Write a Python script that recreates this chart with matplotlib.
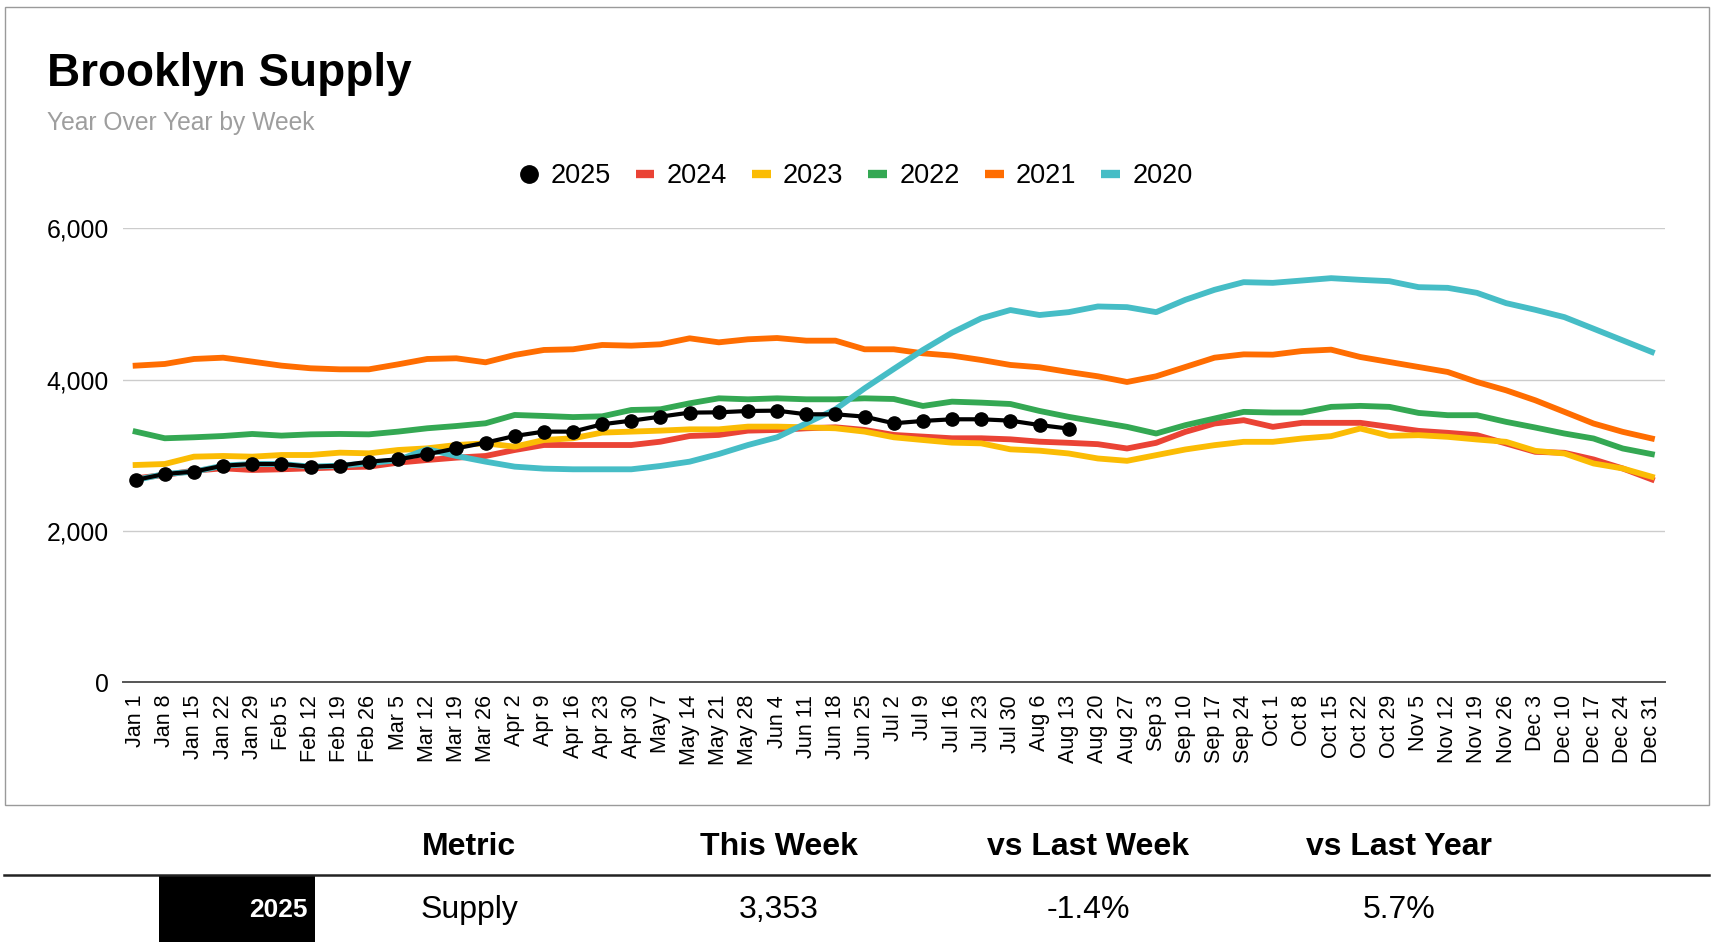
import matplotlib
matplotlib.use("Agg")
import matplotlib.pyplot as plt
from matplotlib.lines import Line2D
from matplotlib.patches import Rectangle

plt.rcParams["font.family"] = ["Liberation Sans", "DejaVu Sans"]

weeks = [
    "Jan 1", "Jan 8", "Jan 15", "Jan 22", "Jan 29", "Feb 5", "Feb 12", "Feb 19",
    "Feb 26", "Mar 5", "Mar 12", "Mar 19", "Mar 26", "Apr 2", "Apr 9", "Apr 16",
    "Apr 23", "Apr 30", "May 7", "May 14", "May 21", "May 28", "Jun 4", "Jun 11",
    "Jun 18", "Jun 25", "Jul 2", "Jul 9", "Jul 16", "Jul 23", "Jul 30", "Aug 6",
    "Aug 13", "Aug 20", "Aug 27", "Sep 3", "Sep 10", "Sep 17", "Sep 24", "Oct 1",
    "Oct 8", "Oct 15", "Oct 22", "Oct 29", "Nov 5", "Nov 12", "Nov 19", "Nov 26",
    "Dec 3", "Dec 10", "Dec 17", "Dec 24", "Dec 31",
]

supply_2025 = [
    2674, 2753, 2784, 2863, 2885, 2885, 2850, 2863, 2916, 2947, 3013, 3092,
    3167, 3255, 3313, 3313, 3410, 3458, 3511, 3564, 3568, 3586, 3590, 3542,
    3542, 3511, 3423, 3454, 3476, 3476, 3458, 3400, 3353,
]
supply_2024 = [
    2696, 2740, 2797, 2828, 2806, 2815, 2828, 2841, 2850, 2903, 2938, 2969,
    2991, 3070, 3136, 3136, 3136, 3136, 3180, 3255, 3269, 3326, 3335, 3357,
    3370, 3335, 3269, 3247, 3225, 3225, 3211, 3180, 3165, 3147, 3090, 3165,
    3310, 3420, 3464, 3376, 3429, 3429, 3429, 3376, 3323, 3297, 3266, 3156,
    3046, 3033, 2945, 2826, 2681,
]
supply_2023 = [
    2872, 2885, 2982, 2991, 2982, 3004, 3004, 3035, 3026, 3070, 3092, 3136,
    3158, 3114, 3202, 3225, 3300, 3313, 3326, 3343, 3343, 3379, 3379, 3370,
    3357, 3313, 3238, 3202, 3167, 3158, 3079, 3061, 3024, 2958, 2927, 3002,
    3077, 3134, 3178, 3178, 3222, 3253, 3354, 3257, 3266, 3244, 3209, 3178,
    3059, 3024, 2892, 2826, 2716,
]
supply_2022 = [
    3313, 3225, 3238, 3255, 3282, 3260, 3277, 3282, 3277, 3313, 3357, 3387,
    3423, 3533, 3520, 3505, 3515, 3599, 3608, 3687, 3753, 3740, 3753, 3740,
    3740, 3753, 3744, 3652, 3709, 3696, 3678, 3586, 3508, 3442, 3376, 3288,
    3398, 3486, 3574, 3565, 3565, 3640, 3653, 3640, 3560, 3530, 3530, 3442,
    3367, 3288, 3222, 3090, 3015,
]
supply_2021 = [
    4185, 4207, 4273, 4290, 4238, 4185, 4150, 4136, 4136, 4202, 4273, 4282,
    4229, 4326, 4392, 4401, 4458, 4449, 4467, 4546, 4493, 4533, 4550, 4515,
    4515, 4401, 4401, 4348, 4317, 4260, 4194, 4163, 4101, 4044, 3969, 4044,
    4167, 4290, 4334, 4330, 4378, 4396, 4299, 4233, 4167, 4101, 3969, 3859,
    3727, 3574, 3420, 3310, 3222,
]
supply_2020 = [
    2674, 2753, 2784, 2863, 2885, 2885, 2850, 2863, 2894, 2938, 3080, 2991,
    2916, 2850, 2824, 2815, 2815, 2815, 2859, 2916, 3017, 3136, 3238, 3423,
    3608, 3885, 4141, 4392, 4621, 4810, 4920, 4854, 4892, 4967, 4958, 4892,
    5055, 5187, 5288, 5279, 5310, 5341, 5319, 5301, 5222, 5213, 5147, 5011,
    4923, 4826, 4673, 4519, 4365,
]

past_years = ["2024", "2023", "2022", "2021", "2020"]
past_values = [supply_2024, supply_2023, supply_2022, supply_2021, supply_2020]
past_colors = ["#ea4335", "#fbbc04", "#34a853", "#ff6d01", "#46bdc6"]

table_header = ["Metric", "This Week", "vs Last Week", "vs Last Year"]
table_row = ["Supply", "3,353", "-1.4%", "5.7%"]
row_label = "2025"

W, H = 1712, 944
fig = plt.figure(figsize=(W / 100, H / 100), dpi=100)

# chart frame
fig.patches.append(Rectangle((5 / W, 1 - 805 / H), 1704 / W, 798 / H,
                             transform=fig.transFigure, fill=False,
                             edgecolor="#9a9a9a", linewidth=1))

ax = fig.add_axes([122.5 / W, 1 - 682.3 / H, (1665 - 122.5) / W, (682.3 - 228.3) / H])
x = list(range(len(weeks)))

for vals, col in zip(past_values, past_colors):
    ax.plot(x, vals, color=col, linewidth=4.2, solid_joinstyle="round", zorder=3)
ax.plot(x[:len(supply_2025)], supply_2025, color="black", linewidth=3,
        marker="o", markersize=9.5, zorder=5)

ax.set_xlim(-0.45, 52.45)
ax.set_ylim(0, 6000)
ax.set_yticks([0, 2000, 4000, 6000])
ax.set_yticklabels(["0", "2,000", "4,000", "6,000"], fontsize=17.8)
ax.set_xticks(x)
ax.set_xticklabels(weeks, rotation=90, fontsize=15.5, va="top")
ax.tick_params(axis="both", length=0)
ax.tick_params(axis="y", pad=10)
ax.tick_params(axis="x", pad=9)
ax.grid(axis="y", color="#cccccc", linewidth=1)
ax.set_axisbelow(True)
for side in ["top", "right", "left"]:
    ax.spines[side].set_visible(False)
ax.spines["bottom"].set_color("#555555")
ax.spines["bottom"].set_linewidth(1.4)
ax.spines["bottom"].set_zorder(2)

fig.text(47 / W, 1 - 86 / H, "Brooklyn Supply", fontsize=33, fontweight="bold",
         va="baseline", ha="left")
fig.text(47 / W, 1 - 123 / H, "Year Over Year by Week", fontsize=17.7,
         color="#9e9e9e", va="center", ha="left")

handles = [Line2D([], [], color="black", marker="o", linestyle="none", markersize=12.5)]
handles += [Line2D([], [], color=c, linewidth=6, solid_capstyle="butt") for c in past_colors]
fig.legend(handles, [row_label] + past_years, loc="center", ncol=6,
           bbox_to_anchor=(856 / W, 1 - 176 / H), frameon=False, fontsize=19.5,
           handlelength=0.7, handletextpad=0.45, columnspacing=0.92)

# summary table under the chart
col_x = [469, 779, 1088, 1399]
for cx, head in zip(col_x, table_header):
    fig.text(cx / W, 1 - 847 / H, head, fontsize=23, fontweight="bold",
             ha="center", va="center")
fig.add_artist(Line2D([4 / W, 1709 / W], [1 - 875 / H, 1 - 875 / H],
                      color="#222222", linewidth=1.8, transform=fig.transFigure))
fig.patches.append(Rectangle((159 / W, 1 - 942 / H), 156 / W, 66 / H,
                             transform=fig.transFigure, facecolor="black",
                             edgecolor="none"))
fig.text(308 / W, 1 - 910 / H, row_label, fontsize=19, fontweight="bold",
         color="white", ha="right", va="center")
for cx, val in zip(col_x, table_row):
    fig.text(cx / W, 1 - 910 / H, val, fontsize=23, ha="center", va="center")

fig.savefig("out.png", dpi=100)
